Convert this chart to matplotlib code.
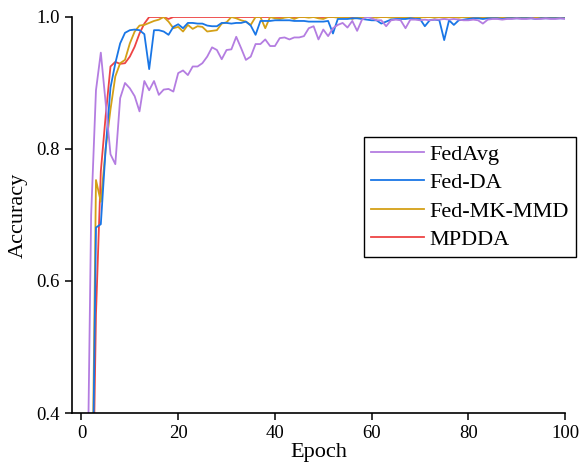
import matplotlib
matplotlib.use("Agg")
import matplotlib.pyplot as plt

plt.rcParams['font.family'] = ['Liberation Serif', 'DejaVu Serif']

# ---------------- data ----------------
epochs = list(range(1, 101))

fedavg = [0.15, 0.70, 0.889, 0.946, 0.870, 0.792, 0.777, 0.877, 0.900, 0.892,
          0.880, 0.857, 0.903, 0.889, 0.903, 0.882, 0.890, 0.891, 0.887, 0.915,
          0.919, 0.912, 0.925, 0.925, 0.930, 0.940, 0.954, 0.950, 0.936, 0.950,
          0.951, 0.970, 0.953, 0.935, 0.940, 0.959, 0.959, 0.966, 0.956, 0.956,
          0.968, 0.969, 0.966, 0.969, 0.969, 0.971, 0.983, 0.986, 0.966, 0.981,
          0.971, 0.983, 0.988, 0.991, 0.984, 0.994, 0.979, 0.996, 1.000, 0.998,
          0.995, 0.995, 0.986, 0.995, 0.996, 0.995, 0.983, 0.996, 0.996, 0.995,
          0.996, 0.995, 0.996, 0.996, 0.997, 0.996, 0.997, 0.996, 0.995, 0.995,
          0.996, 0.995, 0.990, 0.996, 0.997, 0.997, 0.996, 0.997, 0.997, 0.998,
          0.997, 0.997, 0.998, 0.997, 0.997, 0.998, 0.997, 0.997, 0.998, 0.997]

fed_da = [0.10, 0.10, 0.681, 0.686, 0.800, 0.893, 0.930, 0.960, 0.976, 0.980,
          0.981, 0.980, 0.974, 0.921, 0.980, 0.980, 0.978, 0.973, 0.985, 0.989,
          0.983, 0.991, 0.991, 0.990, 0.990, 0.987, 0.986, 0.986, 0.991, 0.991,
          0.990, 0.991, 0.991, 0.993, 0.987, 0.973, 0.994, 0.994, 0.994, 0.995,
          0.995, 0.995, 0.995, 0.994, 0.994, 0.994, 0.993, 0.993, 0.993, 0.993,
          0.994, 0.975, 0.997, 0.997, 0.997, 0.998, 0.998, 0.997, 0.996, 0.995,
          0.995, 0.990, 0.993, 0.996, 0.997, 0.997, 0.997, 0.998, 0.997, 0.997,
          0.986, 0.995, 0.996, 0.995, 0.965, 0.995, 0.988, 0.995, 0.996, 0.997,
          0.998, 0.998, 0.997, 0.998, 0.998, 0.998, 0.997, 0.998, 0.998, 0.998,
          0.998, 0.998, 0.998, 0.997, 0.998, 0.998, 0.998, 0.998, 0.998, 0.998]

fed_mk_mmd = [0.10, 0.12, 0.753, 0.720, 0.800, 0.860, 0.910, 0.930, 0.935, 0.960,
              0.978, 0.987, 0.988, 0.991, 0.994, 0.996, 1.000, 0.993, 0.983, 0.985,
              0.978, 0.988, 0.982, 0.986, 0.985, 0.978, 0.979, 0.980, 0.990, 0.992,
              1.000, 0.998, 0.995, 0.993, 0.988, 1.000, 1.000, 0.983, 1.000, 0.998,
              0.997, 0.999, 1.000, 0.997, 1.000, 1.000, 0.999, 1.000, 0.998, 0.997,
              1.000, 1.000, 0.999, 1.000, 1.000, 0.997, 1.000, 0.999, 1.000, 1.000,
              0.999, 1.000, 1.000, 0.999, 1.000, 1.000, 0.999, 1.000, 1.000, 0.999,
              1.000, 1.000, 0.999, 1.000, 0.999, 1.000, 1.000, 0.999, 1.000, 0.999,
              0.998, 1.000, 1.000, 0.999, 1.000, 1.000, 0.999, 1.000, 1.000, 0.999,
              1.000, 0.999, 1.000, 1.000, 0.999, 1.000, 1.000, 0.999, 1.000, 0.999]

mpdda = [0.10, 0.10, 0.550, 0.766, 0.850, 0.925, 0.932, 0.929, 0.930, 0.940,
         0.955, 0.975, 0.990] + [1.0] * 4 + [0.997] + [1.0] * 82

labels = ['FedAvg', 'Fed-DA', 'Fed-MK-MMD', 'MPDDA']
colors = ['#B47DE1', '#1976E6', '#D4A017', '#EE4444']

# ---------------- plot ----------------
fig = plt.figure(figsize=(5.79, 4.72), dpi=100)
ax = fig.add_axes([0.124, 0.125, 0.852, 0.839])

series = [fedavg, fed_da, fed_mk_mmd, mpdda]
handles = []
# draw MPDDA first so FedAvg ends up on top
for i in [3, 2, 1, 0]:
    h, = ax.plot(epochs, series[i], color=colors[i], linewidth=1.3, label=labels[i])
    handles.append(h)
handles = handles[::-1]

ax.set_xlim(-2, 100)
ax.set_ylim(0.4, 1.0)
ax.set_xticks([0, 20, 40, 60, 80, 100])
ax.set_yticks([0.4, 0.6, 0.8, 1.0])
ax.set_yticklabels(['0.4', '0.6', '0.8', '1.0'])

ax.spines['top'].set_visible(False)
ax.spines['right'].set_visible(False)
for s in ['left', 'bottom']:
    ax.spines[s].set_linewidth(1.2)
ax.tick_params(direction='out', length=5, width=1.1, labelsize=13.5)

ax.set_xlabel('Epoch', fontsize=16, labelpad=1)
ax.set_ylabel('Accuracy', fontsize=16, labelpad=6)

leg = ax.legend(handles=handles, labels=labels, fontsize=16, loc='upper left',
                bbox_to_anchor=(0.629, 0.709), bbox_transform=fig.transFigure,
                frameon=True, fancybox=False, framealpha=1, edgecolor='black',
                handlelength=2.4, handletextpad=0.25, labelspacing=0.36,
                borderpad=0.3, borderaxespad=0)
leg.get_frame().set_linewidth(1.0)

fig.savefig('out.png', dpi=100)
